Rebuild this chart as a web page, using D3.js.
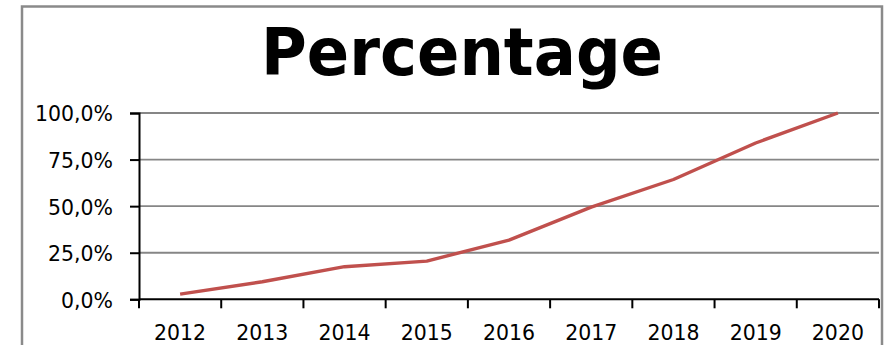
<!DOCTYPE html>
<html>
<head>
<meta charset="utf-8">
<script src="https://cdn.jsdelivr.net/npm/d3@7"></script>
<style>
  html, body { margin: 0; padding: 0; background: #fff; }
  svg { display: block; }
</style>
</head>
<body>
<svg id="chart" width="893" height="345"></svg>
<script>
const years = ["2012", "2013", "2014", "2015", "2016", "2017", "2018", "2019", "2020"];
const percentages = [0.028, 0.094, 0.175, 0.205, 0.318, 0.495, 0.643, 0.839, 1.0];
const yTicks = [0, 0.25, 0.5, 0.75, 1.0];
const chartTitle = "Percentage";

const svg = d3.select("#chart");
const W = 893, H = 345;
const margin = { left: 139, right: 893 - 879, top: 113, bottom: 345 - 299.3 };
const FONT = "DejaVu Sans, Verdana, sans-serif";
const sx = 0.93;

// chart frame
svg.append("rect")
  .attr("x", 22).attr("y", 6.5)
  .attr("width", 860).attr("height", 360)
  .attr("fill", "#fff")
  .attr("stroke", "#8a8a8a")
  .attr("stroke-width", 2.5);

const x = d3.scaleBand().domain(years).range([margin.left, W - margin.right]).padding(0);
const y = d3.scaleLinear().domain([0, 1]).range([H - margin.bottom, margin.top]);

// gridlines
svg.append("g")
  .selectAll("line")
  .data(yTicks.filter(d => d > 0))
  .join("line")
  .attr("x1", margin.left).attr("x2", W - margin.right)
  .attr("y1", d => y(d)).attr("y2", d => y(d))
  .attr("stroke", "#868686")
  .attr("stroke-width", 1.8);

const fmt = d => d3.format(".1f")(d * 100).replace(".", ",") + "%";

// y axis
const yAxis = svg.append("g")
  .attr("transform", `translate(${margin.left},0)`)
  .call(d3.axisLeft(y).tickValues(yTicks).tickFormat(fmt).tickSize(9).tickPadding(17));
yAxis.select(".domain").attr("stroke", "#000").attr("stroke-width", 2);
yAxis.selectAll(".tick line").attr("stroke", "#000").attr("stroke-width", 2);
yAxis.selectAll("text")
  .attr("font-family", FONT)
  .attr("font-size", 22)
  .attr("dy", "0.36em")
  .attr("fill", "#000")
  .attr("x", -26 / sx)
  .attr("transform", `scale(${sx},1)`);

// x axis with ticks between categories
const xAxisG = svg.append("g")
  .attr("transform", `translate(0,${y(0)})`);
xAxisG.append("line")
  .attr("x1", margin.left).attr("x2", W - margin.right)
  .attr("y1", 0).attr("y2", 0)
  .attr("stroke", "#000").attr("stroke-width", 2);
const boundaries = years.map(d => x(d)).concat([x(years[years.length - 1]) + x.bandwidth()]);
xAxisG.selectAll("line.tk")
  .data(boundaries)
  .join("line")
  .attr("class", "tk")
  .attr("x1", d => d).attr("x2", d => d)
  .attr("y1", 0).attr("y2", 9)
  .attr("stroke", "#000").attr("stroke-width", 2);
xAxisG.selectAll("text")
  .data(years)
  .join("text")
  .attr("x", d => (x(d) + x.bandwidth() / 2) / sx)
  .attr("y", 41)
  .attr("transform", `scale(${sx},1)`)
  .attr("text-anchor", "middle")
  .attr("font-family", FONT)
  .attr("font-size", 22)
  .attr("fill", "#000")
  .text(d => d);

// line
const line = d3.line()
  .x((d, i) => x(years[i]) + x.bandwidth() / 2)
  .y(d => y(d));
svg.append("path")
  .datum(percentages)
  .attr("d", line)
  .attr("fill", "none")
  .attr("stroke", "#c0504d")
  .attr("stroke-width", 3.4)
  .attr("stroke-linejoin", "round");

// title
svg.append("text")
  .attr("x", 462)
  .attr("y", 75)
  .attr("text-anchor", "middle")
  .attr("font-family", FONT)
  .attr("font-weight", "bold")
  .attr("font-size", 66)
  .attr("fill", "#000")
  .text(chartTitle)
  .attr("textLength", 402)
  .attr("lengthAdjust", "spacingAndGlyphs");
</script>
</body>
</html>
